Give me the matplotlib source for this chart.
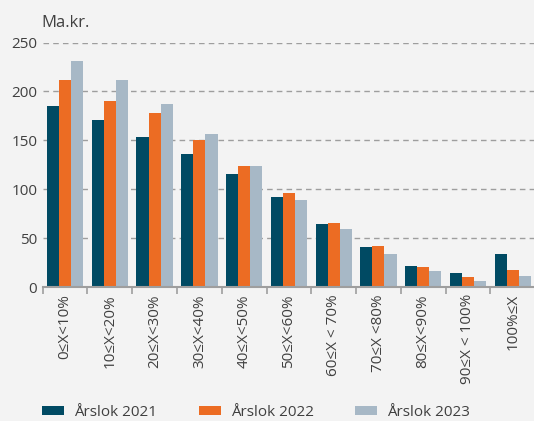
import matplotlib
matplotlib.use("Agg")
import matplotlib.pyplot as plt
import numpy as np

plt.rcParams["font.family"] = ["Open Sans", "DejaVu Sans"]

categories = ["0≤X<10%", "10≤X<20%", "20≤X<30%", "30≤X<40%", "40≤X<50%", "50≤X<60%",
              "60≤X < 70%", "70≤X <80%", "80≤X<90%", "90≤X < 100%", "100%≤X"]
arslok_2021 = [185, 171, 153, 136, 116, 92, 65, 41, 22, 14, 34]
arslok_2022 = [212, 190, 178, 150, 124, 96, 66, 42, 21, 10, 17]
arslok_2023 = [231, 212, 187, 156, 124, 89, 59, 34, 16, 6, 11]
series_labels = ["Årslok 2021", "Årslok 2022", "Årslok 2023"]
yticks = [0, 50, 100, 150, 200, 250]

colors = ["#004a63", "#ec6c23", "#a7b8c6"]
bg = "#f3f3f3"
axis_grey = "#9e9e9e"
text_col = "#404040"

fig = plt.figure(figsize=(5.34, 4.21), dpi=100, facecolor=bg)
ax = fig.add_axes([0.080, 0.318, 0.922, 0.581], facecolor=bg)

x = np.arange(len(categories))
w = 0.27
for i, (vals, lab) in enumerate(zip([arslok_2021, arslok_2022, arslok_2023], series_labels)):
    ax.bar(x + (i - 1) * w, vals, w, color=colors[i], label=lab, zorder=3)

ax.set_xlim(-0.5, len(categories) - 0.5)
ax.set_ylim(0, 250)
ax.set_yticks(yticks)
ax.yaxis.grid(True, color=axis_grey, linestyle=(0, (4, 3)), linewidth=1.0, zorder=0)
ax.tick_params(axis="y", length=0, labelsize=11, labelcolor=text_col, pad=4)

# category labels at centres, tick marks at boundaries
ax.set_xticks(x)
ax.set_xticklabels(categories, rotation=90, fontsize=11, color=text_col)
ax.set_xticks(np.arange(len(categories) + 1) - 0.5, minor=True)
ax.tick_params(axis="x", which="major", length=0, pad=5)
ax.tick_params(axis="x", which="minor", length=5, width=1.2, color=axis_grey)

for s in ["top", "right", "left"]:
    ax.spines[s].set_visible(False)
ax.spines["bottom"].set_color(axis_grey)
ax.spines["bottom"].set_linewidth(1.5)
ax.spines["bottom"].set_zorder(4)

fig.text(0.077, 0.945, "Ma.kr.", fontsize=12, color=text_col, ha="left", va="center")

fig.legend(loc="lower left", bbox_to_anchor=(0.079, 0.002), ncol=3, frameon=False,
           fontsize=11, handlelength=1.45, handleheight=0.55, columnspacing=2.7,
           handletextpad=0.65, borderpad=0, borderaxespad=0, labelcolor=text_col)

fig.savefig("out.png", dpi=100, facecolor=bg)
